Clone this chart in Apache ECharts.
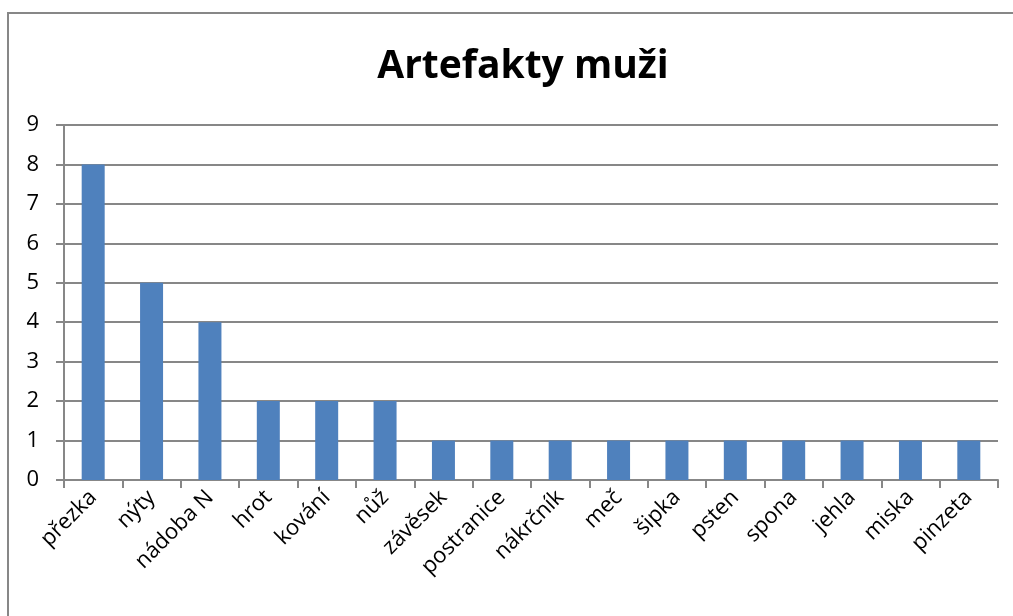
<!DOCTYPE html>
<html>
<head>
<meta charset="utf-8">
<script src="https://cdn.jsdelivr.net/npm/echarts@6/dist/echarts.min.js"></script>
<style>
  html, body { margin: 0; padding: 0; background: #fff; }
  #chart { width: 1013px; height: 616px; }
</style>
</head>
<body>
<div id="chart"></div>
<script>
// kategorie a počty
var categories = ['přezka', 'nýty', 'nádoba N', 'hrot', 'kování', 'nůž', 'závěsek', 'postranice',
  'nákrčník', 'meč', 'šipka', 'psten', 'spona', 'jehla', 'miska', 'pinzeta'];
var counts = [8, 5, 4, 2, 2, 2, 1, 1, 1, 1, 1, 1, 1, 1, 1, 1];
var yTicks = [0, 1, 2, 3, 4, 5, 6, 7, 8, 9];

var chart = echarts.init(document.getElementById('chart'));
var option = {
  animation: false,
  textStyle: { fontFamily: 'Open Sans' },
  title: {
    text: 'Artefakty muži',
    left: 518,
    textAlign: 'center',
    top: 42,
    textStyle: { fontSize: 39, fontWeight: 'bold', color: '#000', fontFamily: 'Open Sans' }
  },
  graphic: [{
    type: 'rect',
    shape: { x: 8, y: 13, width: 1020, height: 620 },
    style: { fill: 'none', stroke: '#878787', lineWidth: 2 },
    silent: true
  }],
  grid: { left: 64, right: 15, top: 125, bottom: 136, containLabel: false },
  xAxis: {
    type: 'category',
    data: categories,
    axisLine: { lineStyle: { color: '#878787', width: 2 } },
    axisTick: { show: true, length: 8, lineStyle: { color: '#878787', width: 2 } },
    axisLabel: { rotate: 45, fontSize: 22, color: '#000', margin: 14, interval: 0 }
  },
  yAxis: {
    type: 'value',
    min: yTicks[0],
    max: yTicks[yTicks.length - 1],
    interval: 1,
    axisLine: { show: true, lineStyle: { color: '#878787', width: 2 } },
    axisTick: { show: true, length: 8, lineStyle: { color: '#878787', width: 2 } },
    splitLine: { lineStyle: { color: '#878787', width: 2 } },
    axisLabel: { fontSize: 22, color: '#000', margin: 25 }
  },
  series: [{
    type: 'bar',
    data: counts,
    barWidth: 23,
    itemStyle: { color: '#4F81BD' }
  }]
};
chart.setOption(option);
</script>
</body>
</html>
